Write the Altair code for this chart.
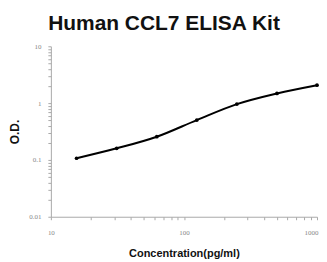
import altair as alt
import pandas as pd

conc = [15.6, 31.25, 62.5, 125, 250, 500, 1000]
od = [0.107, 0.160, 0.256, 0.503, 0.96, 1.48, 2.07]

x_ticks = [10, 20, 30, 40, 50, 60, 70, 80, 90, 100, 200, 300, 400, 500, 600, 700, 800, 900, 1000]
y_ticks = [0.01, 0.02, 0.03, 0.04, 0.05, 0.06, 0.07, 0.08, 0.09,
           0.1, 0.2, 0.3, 0.4, 0.5, 0.6, 0.7, 0.8, 0.9,
           1, 2, 3, 4, 5, 6, 7, 8, 9, 10]
x_labels = [10, 100, 1000]
y_labels = [0.01, 0.1, 1, 10]

df = pd.DataFrame({"conc": conc, "od": od})

label_expr_x = "indexof(" + str(x_labels) + ", datum.value) >= 0 ? format(datum.value, 'd') : ''"
label_expr_y = "indexof(" + str(y_labels) + ", datum.value) >= 0 ? format(datum.value, '~g') : ''"

xenc = alt.X(
    "conc:Q",
    scale=alt.Scale(type="log", domain=[10, 1000], nice=False),
    axis=alt.Axis(
        values=x_ticks, labelExpr=label_expr_x, grid=False,
        title="Concentration(pg/ml)", titleFont="Liberation Sans", titleFontSize=11,
        titleFontWeight="bold", titleColor="#111", titlePadding=12,
        labelFont="Liberation Serif", labelFontSize=7, labelColor="#888",
        labelPadding=9, tickSize=3, tickColor="#aaa", domainColor="#aaa",
        labelFlush=False, labelOverlap=False,
        labelAlign={"expr": "datum.value == 1000 ? 'right' : 'center'"},
        labelOffset={"expr": "datum.value == 1000 ? 1 : 0"},
    ),
)
yenc = alt.Y(
    "od:Q",
    scale=alt.Scale(type="log", domain=[0.01, 10], nice=False),
    axis=alt.Axis(
        values=y_ticks, labelExpr=label_expr_y, grid=False,
        title="O.D.", titleFont="Liberation Sans", titleFontSize=12,
        titleFontWeight="bold", titleColor="#111", titlePadding=7,
        labelFont="Liberation Serif", labelFontSize=7, labelColor="#888",
        labelPadding=7, tickSize=3, tickColor="#aaa", domainColor="#aaa",
        labelFlush=False, labelOverlap=False,
    ),
)

line = alt.Chart(df).mark_line(color="black", strokeWidth=2, interpolate="monotone").encode(x=xenc, y=yenc)
pts = alt.Chart(df).mark_point(filled=True, color="black", size=14, opacity=1).encode(x="conc:Q", y="od:Q")

chart = (line + pts).properties(
    width=267, height=171,
    autosize=alt.AutoSizeParams(type="none"),
    padding={"left": 43, "top": 38, "right": 2, "bottom": 50},
    title=alt.TitleParams(
        "Human CCL7 ELISA Kit", font="Liberation Sans", fontSize=21,
        fontWeight="bold", color="#111", anchor="middle", dx=-20, offset=8,
    ),
).configure_view(stroke=None)

chart.save("out.html", embed_options={"renderer": "svg", "actions": False})
